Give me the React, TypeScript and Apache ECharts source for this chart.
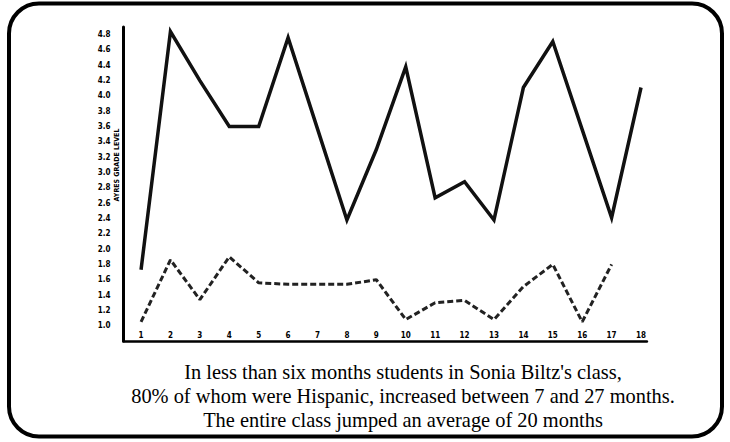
import React, { useEffect, useRef } from 'react';
import * as echarts from 'echarts';

// Student numbers along the x axis
const students = [1, 2, 3, 4, 5, 6, 7, 8, 9, 10, 11, 12, 13, 14, 15, 16, 17, 18];
// Solid line: grade level after
const gradeAfter = [1.73, 4.84, 4.2, 3.6, 3.6, 4.76, 3.57, 2.38, 3.3, 4.38, 2.67, 2.88, 2.38, 4.11, 4.71, 3.56, 2.41, 4.11];
// Dashed line: grade level before
const gradeBefore = [1.05, 1.86, 1.34, 1.9, 1.56, 1.54, 1.54, 1.54, 1.6, 1.08, 1.3, 1.33, 1.08, 1.51, 1.8, 1.05, 1.8, null];
// Y tick labels shown
const yTickLabels = ['1.0', '1.2', '1.4', '1.6', '1.8', '2.0', '2.2', '2.4', '2.6', '2.8', '3.0', '3.2', '3.4', '3.6', '3.8', '4.0', '4.2', '4.4', '4.6', '4.8'];
const yAxisName = 'AYRES GRADE LEVEL';
const captionLines = [
  "In less than six months students in Sonia Biltz's class,",
  '80% of whom were Hispanic, increased between 7 and 27 months.',
  'The entire class jumped an average of 20 months',
];

export default function App() {
  const ref = useRef<HTMLDivElement>(null);
  useEffect(() => {
    if (!ref.current) return;
    const chart = echarts.init(ref.current, null, { renderer: 'svg' });
    const tickFont = {
      fontFamily: '"DejaVu Sans Condensed", "Liberation Sans Narrow", Arial, sans-serif',
      fontWeight: 'bold' as const,
      fontSize: 8,
      color: '#000',
    };
    chart.setOption({
      animation: false,
      backgroundColor: '#fff',
      grid: { left: 123.4, width: 523.5, top: 27, height: 314, containLabel: false },
      xAxis: {
        type: 'value',
        min: 0.4,
        max: 18.2,
        axisLine: { show: true, lineStyle: { color: '#000', width: 2.5 } },
        axisTick: { show: false },
        splitLine: { show: false },
        axisLabel: {
          ...tickFont,
          inside: true,
          margin: 2,
          customValues: students,
          formatter: (v: number) => String(v),
        },
      },
      yAxis: {
        type: 'value',
        min: 0.8,
        max: 4.9,
        interval: 0.2,
        axisLine: { show: true, lineStyle: { color: '#000', width: 3 } },
        axisTick: { show: false },
        splitLine: { show: false },
        axisLabel: {
          ...tickFont,
          margin: 13,
          formatter: (v: number) => {
            const s = v.toFixed(1);
            return yTickLabels.includes(s) ? s : '';
          },
        },
      },
      series: [
        {
          type: 'line',
          data: students.map((s, i) => [s, gradeAfter[i]]),
          showSymbol: false,
          lineStyle: { color: '#111', width: 3.5, type: 'solid', join: 'miter' },
        },
        {
          type: 'line',
          data: students.map((s, i) => [s, gradeBefore[i]]),
          showSymbol: false,
          connectNulls: false,
          lineStyle: { color: '#222', width: 3, type: [6, 3] },
        },
      ],
      graphic: [
        {
          type: 'rect',
          shape: { x: 9, y: 3.5, width: 713, height: 433, r: 30 },
          style: { fill: 'none', stroke: '#000', lineWidth: 4 },
          silent: true,
        },
        {
          type: 'text',
          x: 117,
          y: 165,
          rotation: Math.PI / 2,
          style: {
            text: yAxisName,
            fontFamily: '"DejaVu Sans Condensed", "Liberation Sans Narrow", Arial, sans-serif',
            fontWeight: 'bold',
            fontSize: 7,
            fill: '#000',
            align: 'center',
            verticalAlign: 'middle',
          },
        },
        ...captionLines.map((line, i) => ({
          type: 'text',
          x: 403,
          y: 372 + i * 24,
          style: {
            text: line,
            fontFamily: '"Liberation Serif", "Times New Roman", serif',
            fontSize: 20.4,
            fill: '#000',
            align: 'center',
            verticalAlign: 'middle',
          },
        })),
      ],
    });
    return () => chart.dispose();
  }, []);
  return <div ref={ref} style={{ position: 'fixed', left: 0, top: 0, width: 730, height: 442, background: '#fff' }} />;
}
